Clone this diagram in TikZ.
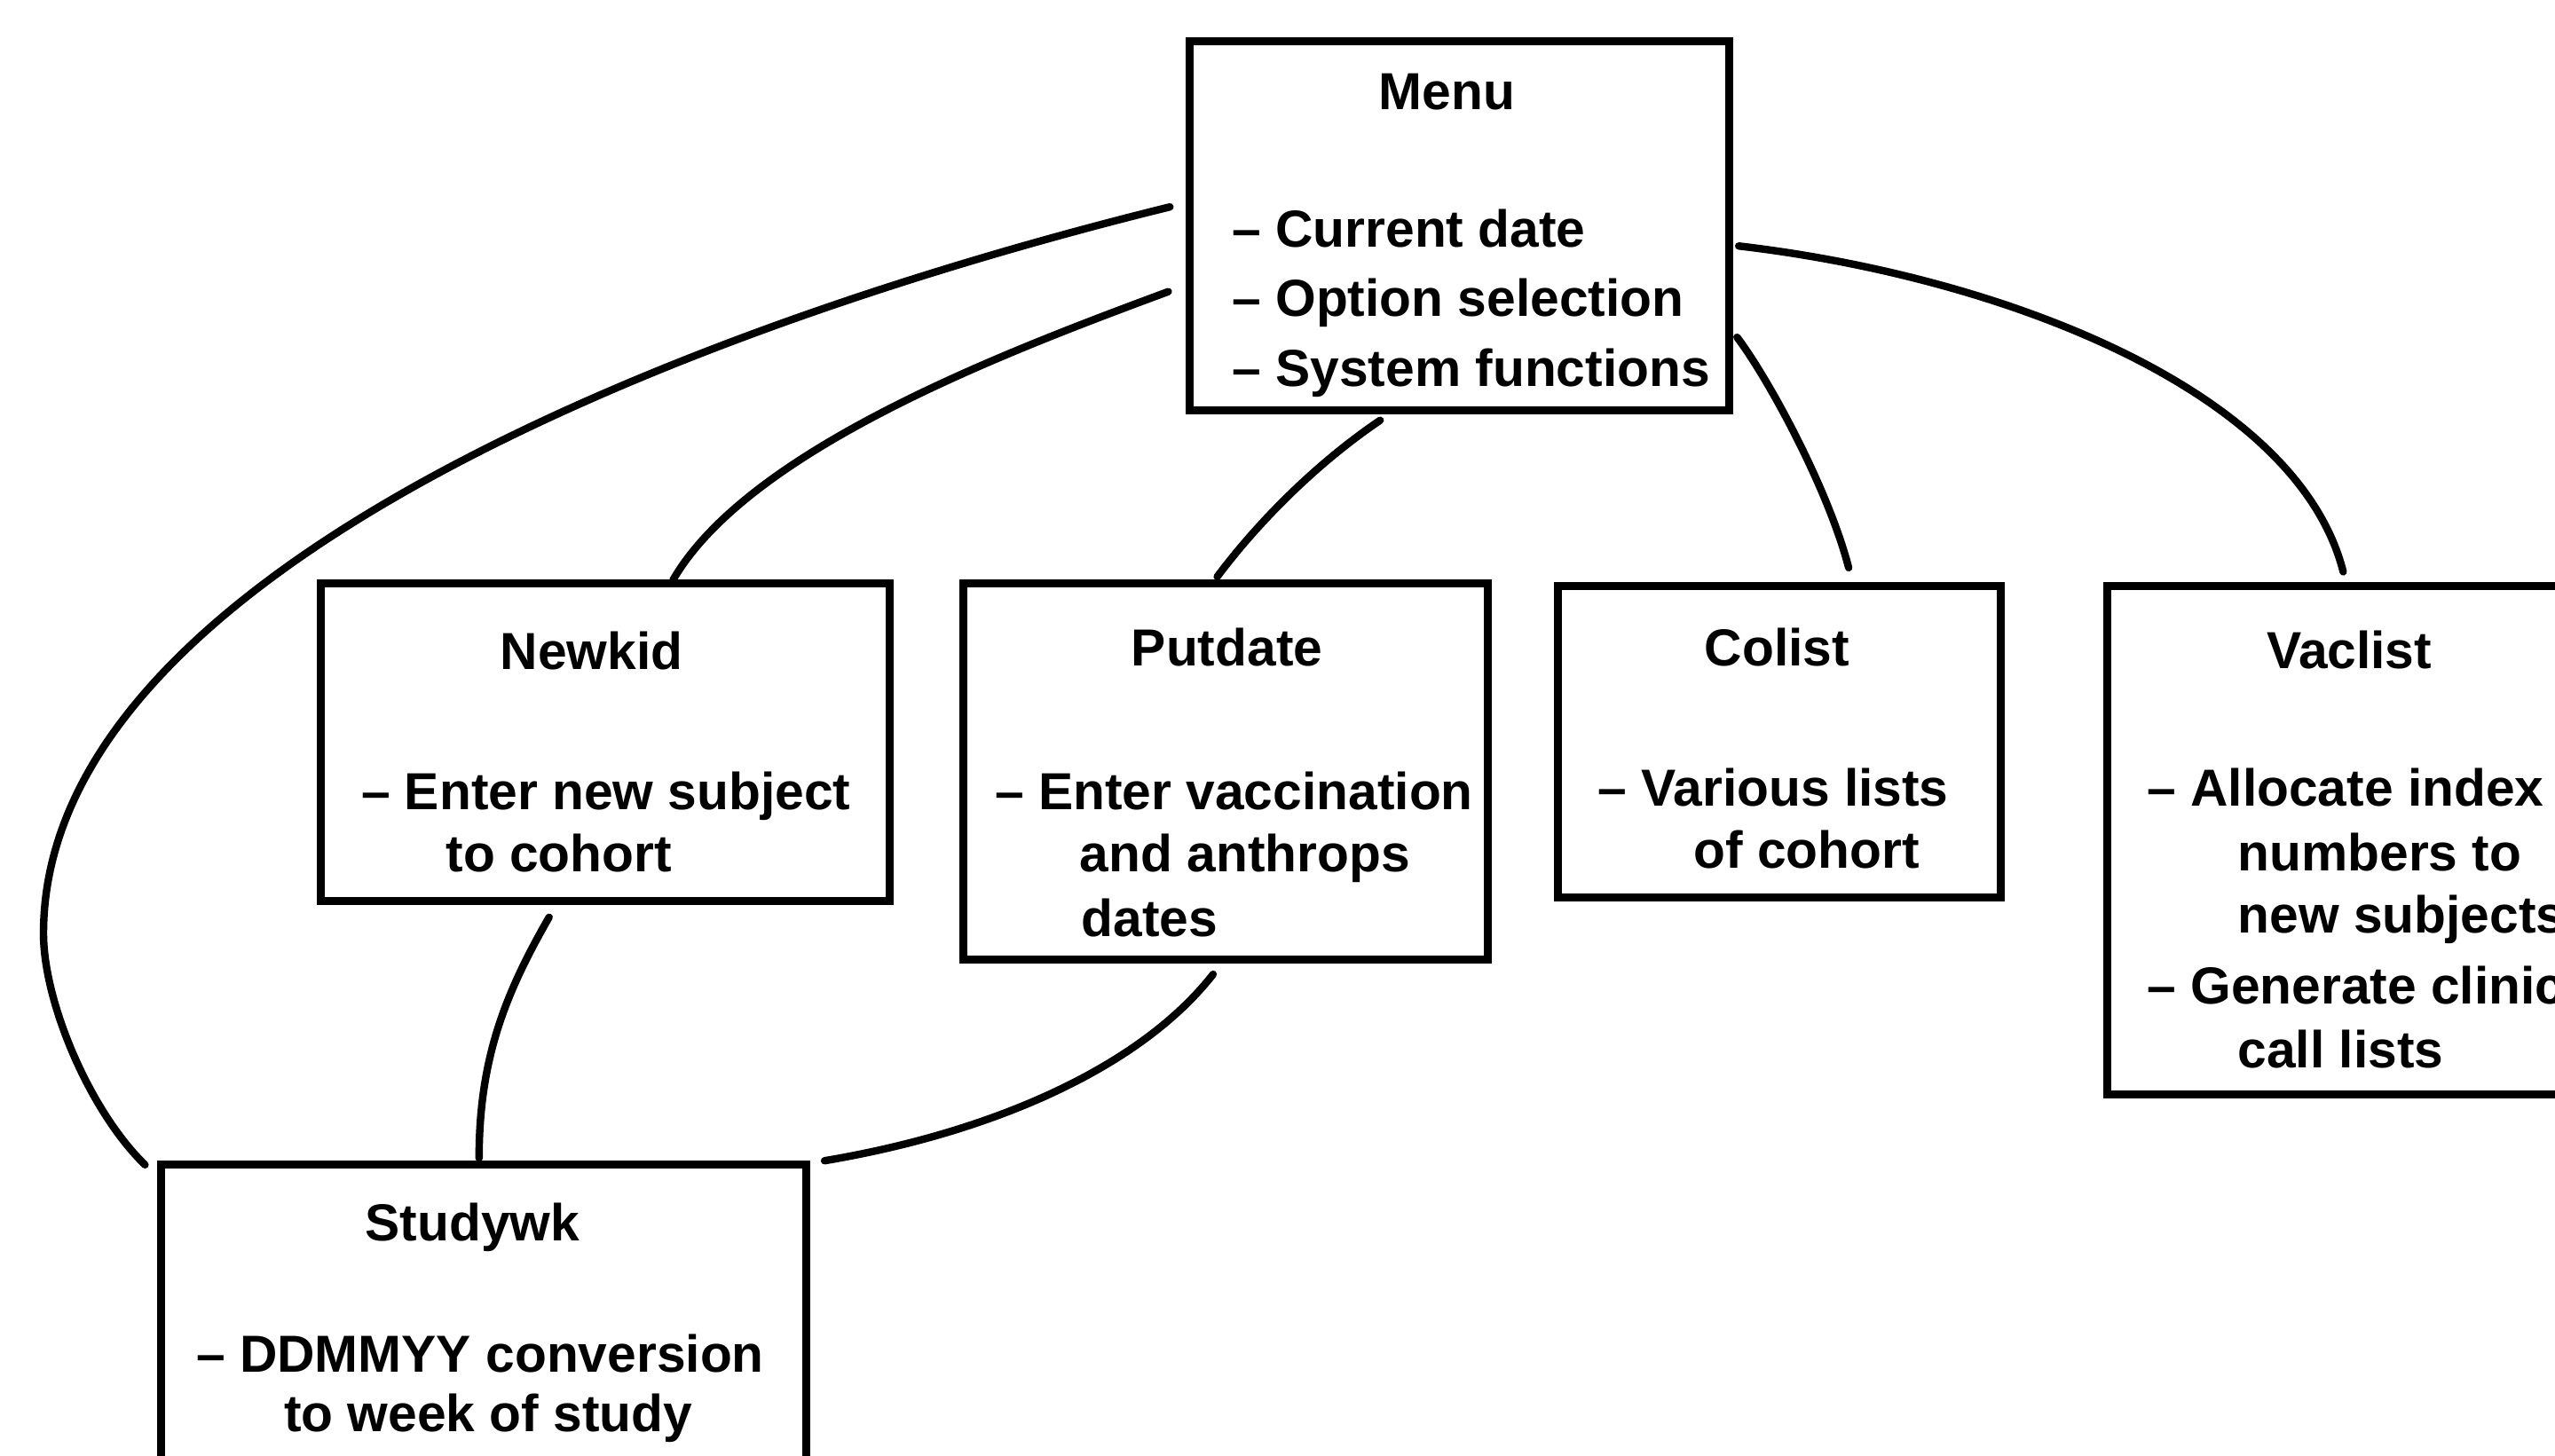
\documentclass[tikz,border=0pt]{standalone}
\usepackage{fontspec}
\setmainfont{Liberation Sans}

\tikzset{
	box/.style={rectangle, draw=black, line width=1.4pt, inner sep=0pt, outer sep=0pt, anchor=north west},
	txt/.style={inner sep=0pt, font=\fontsize{9.1}{11}\selectfont\bfseries},
	link/.style={line width=1.3pt, line cap=round},
}

\begin{document}
\begin{tikzpicture}
	\useasboundingbox (0,0) rectangle (15.68,-8.932);
	\clip (0,0) rectangle (15.68,-8.932);

	% Riquadri
	\node[box, minimum width=3.31cm, minimum height=2.266cm] (menu) at (7.30,-0.254) {};
	\node[box, minimum width=3.49cm, minimum height=1.95cm] (newkid) at (1.97,-3.58) {};
	\node[box, minimum width=3.22cm, minimum height=2.31cm] (putdate) at (5.91,-3.58) {};
	\node[box, minimum width=2.72cm, minimum height=1.915cm] (colist) at (9.56,-3.595) {};
	\node[box, minimum width=3.07cm, minimum height=3.124cm] (vaclist) at (12.93,-3.596) {};
	\node[box, minimum width=3.96cm, minimum height=2.30cm] (studywk) at (0.99,-7.15) {};

	% Menu
	\node[txt, anchor=base] (menu-t) at (8.88,-0.67) {Menu};
	\foreach \t [count=\i] in {Current date, Option selection, System functions}
	{
	\node[txt, anchor=base west] (menu-\i) at (7.555,{-1.516-0.427*(\i-1)}) {-- \t};
	}

	% Newkid
	\node[txt, anchor=base] (newkid-t) at (3.63,-4.11) {Newkid};
	\node[txt, anchor=base west] (newkid-1) at (2.21,-4.97) {-- Enter new subject};
	\node[txt, anchor=base west] (newkid-2) at (2.73,-5.35) {to cohort};

	% Putdate
	\node[txt, anchor=base] (putdate-t) at (7.53,-4.085) {Putdate};
	\node[txt, anchor=base west] (putdate-1) at (6.10,-4.97) {-- Enter vaccination};
	\node[txt, anchor=base west] (putdate-2) at (6.62,-5.35) {and anthrops};
	\node[txt, anchor=base west] (putdate-3) at (6.63,-5.746) {dates};

	% Colist
	\node[txt, anchor=base] (colist-t) at (10.906,-4.085) {Colist};
	\node[txt, anchor=base west] (colist-1) at (9.80,-4.946) {-- Various lists};
	\node[txt, anchor=base west] (colist-2) at (10.387,-5.329) {of cohort};

	% Vaclist
	\node[txt, anchor=base] (vaclist-t) at (14.417,-4.106) {Vaclist};
	\node[txt, anchor=base west] (vaclist-1) at (13.17,-4.946) {-- Allocate index};
	\node[txt, anchor=base west] (vaclist-2) at (13.726,-5.348) {numbers to};
	\node[txt, anchor=base west] (vaclist-3) at (13.726,-5.725) {new subjects};
	\node[txt, anchor=base west] (vaclist-4) at (13.17,-6.16) {-- Generate clinic};
	\node[txt, anchor=base west] (vaclist-5) at (13.726,-6.554) {call lists};

	% Studywk
	\node[txt, anchor=base] (studywk-t) at (2.90,-7.616) {Studywk};
	\node[txt, anchor=base west] (studywk-1) at (1.198,-8.424) {-- DDMMYY conversion};
	\node[txt, anchor=base west] (studywk-2) at (1.736,-8.786) {to week of study};

	% Collegamenti
	\coordinate (bend) at (0.267,-5.73);
	\draw[link] ([shift={(-0.12,-1.016)}]menu.north west)
		.. controls +(-2.88,-0.71) and +(0,2.23) .. (bend)
		.. controls +(0,-0.42) and +(-0.34,0.33) .. ([shift={(-0.10,0)}]studywk.north west);
	\draw[link] ([shift={(-0.13,-1.536)}]menu.north west)
		.. controls +(-0.97,-0.36) and +(0.47,0.81) .. ([shift={(2.16,0.02)}]newkid.north west);
	\draw[link] ([shift={(1.17,-0.06)}]menu.south west)
		.. controls +(-0.37,-0.25) and +(0.27,0.36) .. ([shift={(1.56,0.04)}]putdate.north west);
	\draw[link] ([shift={(0.05,-1.816)}]menu.north east)
		.. controls +(0.19,-0.25) and +(-0.125,0.485) .. ([shift={(1.785,0.11)}]colist.north west);
	\draw[link] ([shift={(0.06,-1.256)}]menu.north east)
		.. controls +(1.63,-0.19) and +(-0.28,1.11) .. ([shift={(1.45,0.086)}]vaclist.north west);
	\draw[link] ([shift={(1.40,-0.10)}]newkid.south west)
		.. controls +(-0.27,-0.47) and +(0,0.61) .. ([shift={(1.95,0.04)}]studywk.north west);
	\draw[link] ([shift={(1.535,-0.09)}]putdate.south west)
		.. controls +(-0.445,-0.57) and +(1.04,0.175) .. ([shift={(0.11,0.025)}]studywk.north east);

\end{tikzpicture}
\end{document}
